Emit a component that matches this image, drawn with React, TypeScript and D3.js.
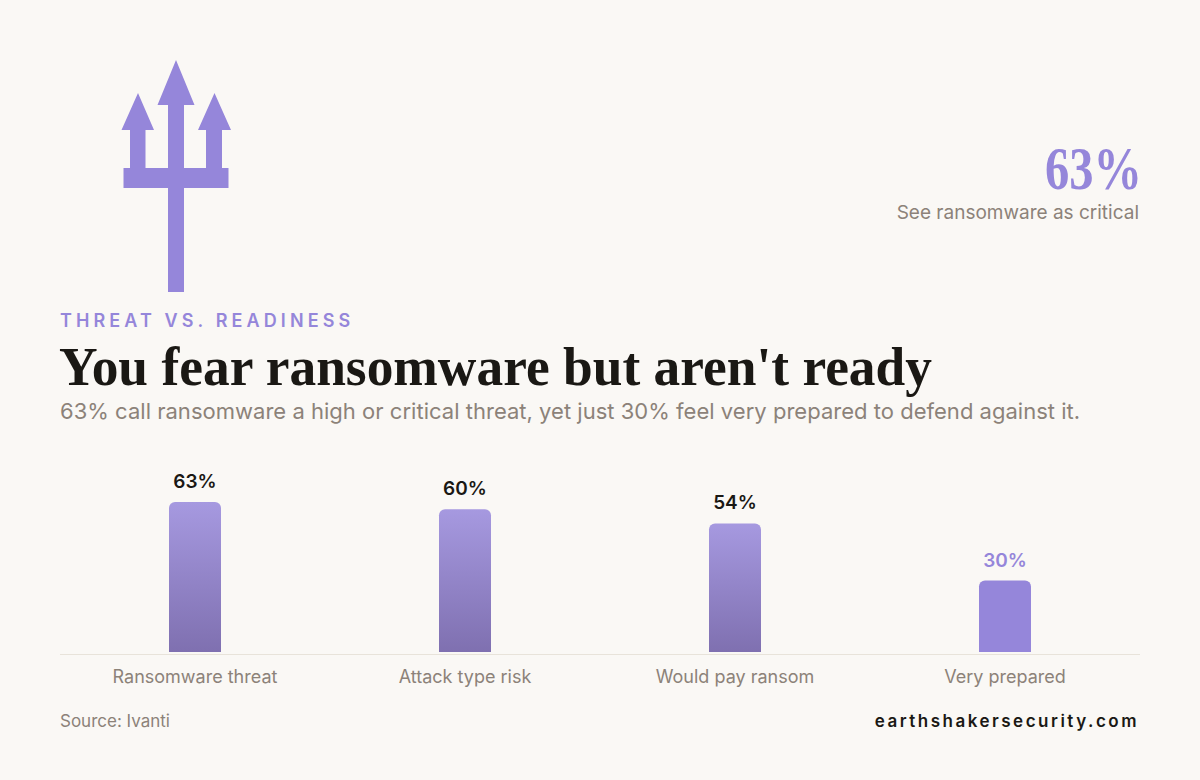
import React from "react";
import * as d3 from "d3";

const categories = ["Ransomware threat", "Attack type risk", "Would pay ransom", "Very prepared"];
const values = [63, 60, 54, 30];
const highlighted = [false, false, false, true];

const BG = "#FAF8F5";
const ACCENT = "#9586DA";
const MUTED = "#8C8279";
const DARK = "#1A1814";
const SANS = "Inter, 'Noto Sans', sans-serif";
const SERIF = "'Liberation Serif', 'DejaVu Serif', serif";

const x = d3.scaleBand<string>().domain(categories).range([60, 1140]);
const y = d3.scaleLinear().domain([0, 63]).range([652, 502]);
const BAR_W = 52;
const R = 6;

function barPath(cx: number, top: number, base: number) {
  const p = d3.path();
  const l = cx - BAR_W / 2;
  const r = cx + BAR_W / 2;
  p.moveTo(l, base);
  p.lineTo(l, top + R);
  p.arcTo(l, top, l + R, top, R);
  p.lineTo(r - R, top);
  p.arcTo(r, top, r, top + R, R);
  p.lineTo(r, base);
  p.closePath();
  return p.toString();
}

const tridentOutline: [number, number][] = [
  [176, 60], [194.5, 105], [184, 105], [184, 168], [206, 168], [206, 130], [198, 130], [214.5, 93], [231, 130],
  [222, 130], [222, 168], [228.5, 168], [228.5, 188], [184, 188], [184, 292], [168, 292], [168, 188], [123.5, 188],
  [123.5, 168], [130, 168], [130, 130], [121.5, 130], [138, 93], [154, 130], [145.5, 130], [145.5, 168], [168, 168],
  [168, 105], [157.5, 105],
];
const tridentPath = (d3.line()(tridentOutline) ?? "") + "Z";

export default function App() {
  return (
    <svg
      width={1200}
      height={780}
      viewBox="0 0 1200 780"
      style={{ position: "absolute", left: 0, top: 0, display: "block" }}
    >
      <defs>
        <linearGradient id="barGrad" x1="0" y1="0" x2="0" y2="1">
          <stop offset="0%" stopColor="#A699E0" />
          <stop offset="100%" stopColor="#7F70B0" />
        </linearGradient>
      </defs>
      <rect width={1200} height={780} fill={BG} />
      <path d={tridentPath} fill={ACCENT} />

      <text x={1045} y={189} fontFamily={SERIF} fontWeight={700} fontSize={62} fill={ACCENT}
        textLength={97} lengthAdjust="spacingAndGlyphs">63%</text>
      <text x={1139} y={219} textAnchor="end" fontFamily={SANS} fontSize={19} fill={MUTED}>See ransomware as critical</text>

      <text x={60} y={327} fontFamily={SANS} fontWeight={600} fontSize={18} letterSpacing={4.1} fill={ACCENT}>THREAT VS. READINESS</text>
      <text x={59} y={385} fontFamily={SERIF} fontWeight={700} fontSize={54} fill={DARK}
        textLength={873} lengthAdjust="spacingAndGlyphs">You fear ransomware but aren't ready</text>
      <text x={60} y={419} fontFamily={SANS} fontSize={22} letterSpacing={0.02} fill={MUTED}>63% call ransomware a high or critical threat, yet just 30% feel very prepared to defend against it.</text>

      {categories.map((c, i) => {
        const cx = (x(c) ?? 0) + x.bandwidth() / 2;
        const top = y(values[i]);
        return (
          <g key={c}>
            <path d={barPath(cx, top, y(0))} fill={highlighted[i] ? ACCENT : "url(#barGrad)"} />
            <text x={cx} y={top - 14} textAnchor="middle" fontFamily={SANS} fontWeight={600} fontSize={19}
              fill={highlighted[i] ? ACCENT : DARK}>{values[i]}%</text>
            <text x={cx} y={683} textAnchor="middle" fontFamily={SANS} fontSize={18} fill={MUTED}>{c}</text>
          </g>
        );
      })}
      <line x1={60} x2={1140} y1={654.5} y2={654.5} stroke="#E8E3DA" strokeWidth={1} />

      <text x={60} y={727} fontFamily={SANS} fontSize={17} fill={MUTED}>Source: Ivanti</text>
      <text x={1139} y={727} textAnchor="end" fontFamily={SANS} fontWeight={600} fontSize={17} letterSpacing={2.5} fill={DARK}>earthshakersecurity.com</text>
    </svg>
  );
}
